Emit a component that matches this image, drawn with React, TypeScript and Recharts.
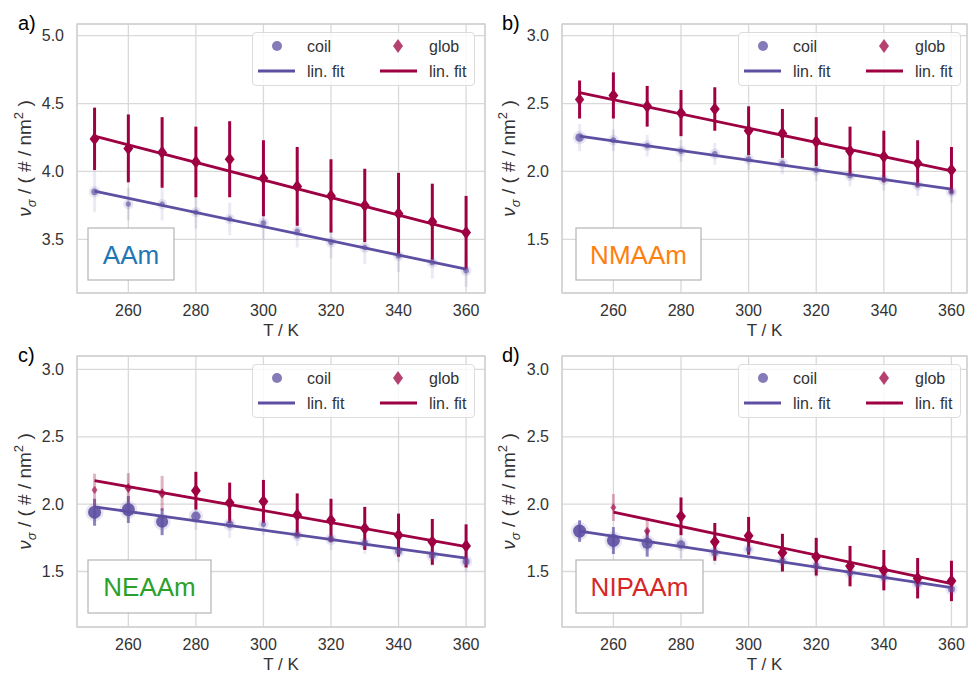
import React from 'react';
import {
  ComposedChart,
  Scatter,
  Line,
  XAxis,
  YAxis,
  CartesianGrid,
  ErrorBar,
  Legend,
  Customized,
} from 'recharts';

const COIL = '#5e4fa2';
const GLOB = '#9e0142';
const FONT = '"Liberation Sans", Arial, sans-serif';
const YW = 50;
const XH = 30;

const temps = [250, 260, 270, 280, 290, 300, 310, 320, 330, 340, 350, 360];
const xTicks = [260, 280, 300, 320, 340, 360];
const seriesNames = ['coil', 'glob'];
const fitName = 'lin. fit';

// a) AAm
const aCoil = [3.85, 3.76, 3.76, 3.7, 3.65, 3.62, 3.56, 3.48, 3.44, 3.38, 3.33, 3.27];
const aCoilErr = [0.15, 0.12, 0.12, 0.12, 0.12, 0.12, 0.12, 0.12, 0.12, 0.12, 0.12, 0.12];
const aCoilW = [0.3, 0.15, 0.15, 0.15, 0.15, 0.2, 0.15, 0.2, 0.15, 0.2, 0.2, 0.2];
const aGlob = [4.24, 4.17, 4.14, 4.07, 4.09, 3.95, 3.89, 3.82, 3.75, 3.69, 3.63, 3.55];
const aGlobErr = [0.23, 0.25, 0.26, 0.26, 0.28, 0.28, 0.29, 0.27, 0.27, 0.3, 0.28, 0.27];
const aGlobW = [1, 1, 1, 1, 1, 1, 1, 1, 1, 1, 1, 1];
const aFitT = [250, 360];
const aCoilFit = [3.855, 3.28];
const aGlobFit = [4.26, 3.55];

// b) NMAAm
const bCoil = [2.25, 2.23, 2.19, 2.15, 2.13, 2.09, 2.06, 2.01, 1.97, 1.94, 1.9, 1.85];
const bCoilErr = [0.1, 0.08, 0.08, 0.08, 0.08, 0.08, 0.08, 0.08, 0.08, 0.08, 0.08, 0.08];
const bCoilW = [0.5, 0.2, 0.2, 0.2, 0.2, 0.2, 0.2, 0.2, 0.2, 0.2, 0.2, 0.25];
const bGlob = [2.53, 2.56, 2.48, 2.43, 2.46, 2.3, 2.28, 2.22, 2.15, 2.11, 2.06, 2.01];
const bGlobErr = [0.14, 0.17, 0.15, 0.17, 0.16, 0.18, 0.18, 0.18, 0.18, 0.19, 0.17, 0.17];
const bGlobW = [0.9, 1, 1, 1, 1, 1, 1, 1, 1, 1, 1, 1];
const bFitT = [250, 360];
const bCoilFit = [2.26, 1.87];
const bGlobFit = [2.58, 2.005];

// c) NEAAm
const cCoil = [1.94, 1.96, 1.87, 1.91, 1.85, 1.85, 1.77, 1.74, 1.71, 1.65, 1.62, 1.575];
const cCoilErr = [0.1, 0.1, 0.1, 0.1, 0.1, 0.08, 0.08, 0.08, 0.08, 0.08, 0.08, 0.08];
const cCoilW = [1, 1, 0.9, 0.6, 0.4, 0.15, 0.3, 0.3, 0.3, 0.35, 0.35, 0.35];
const cGlob = [2.106, 2.12, 2.08, 2.1, 2.01, 2.02, 1.92, 1.88, 1.82, 1.77, 1.72, 1.69];
const cGlobErr = [0.12, 0.11, 0.13, 0.14, 0.15, 0.16, 0.16, 0.16, 0.16, 0.16, 0.17, 0.16];
const cGlobW = [0.3, 0.55, 0.6, 1, 1, 1, 1, 1, 1, 1, 1, 1];
const cFitT = [250, 360];
const cCoilFit = [1.98, 1.6];
const cGlobFit = [2.175, 1.685];

// d) NIPAAm
const dCoil = [1.8, 1.73, 1.71, 1.7, 1.64, 1.665, 1.58, 1.54, 1.49, 1.46, 1.41, 1.37];
const dCoilErr = [0.08, 0.1, 0.1, 0.1, 0.09, 0.08, 0.08, 0.08, 0.08, 0.08, 0.08, 0.08];
const dCoilW = [1, 1, 0.8, 0.5, 0.35, 0.2, 0.3, 0.3, 0.3, 0.3, 0.3, 0.35];
const dGlob = [null, 1.975, 1.8, 1.91, 1.72, 1.765, 1.64, 1.61, 1.54, 1.51, 1.45, 1.43];
const dGlobErr = [0, 0.1, 0.1, 0.14, 0.14, 0.14, 0.14, 0.14, 0.15, 0.15, 0.15, 0.15];
const dGlobW = [0, 0.3, 0.4, 1, 1, 1, 1, 1, 1, 1, 1, 1];
const dFitT = [260, 360];
const dCoilFit = [1.8, 1.38];
const dGlobFit = [1.94, 1.41];
const dCoilFitT = [250, 360];

type Pt = { t: number; v: number; e: number; ef: number; w: number };

function buildPoints(vals: (number | null)[], errs: number[], ws: number[]): Pt[] {
  const out: Pt[] = [];
  temps.forEach((t, i) => {
    const v = vals[i];
    if (v == null) return;
    const strong = ws[i] >= 0.7;
    out.push({ t, v, e: strong ? errs[i] : 0, ef: strong ? 0 : errs[i], w: ws[i] });
  });
  return out;
}

function buildFit(ts: number[], vs: number[]) {
  return ts.map((t, i) => ({ t, v: vs[i] }));
}

const CoilDot = (props: any) => {
  const { cx, cy, payload } = props;
  if (cx == null || cy == null) return null;
  const r = 2 + 4.5 * payload.w;
  return (
    <g>
      <circle cx={cx} cy={cy} r={r + 2.5} fill={COIL} fillOpacity={0.14} />
      <circle cx={cx} cy={cy} r={r} fill={COIL} fillOpacity={0.55 + 0.35 * payload.w} />
    </g>
  );
};

const GlobDiamond = (props: any) => {
  const { cx, cy, payload } = props;
  if (cx == null || cy == null) return null;
  const h = 3 + 3.6 * payload.w;
  const w = h * 0.75;
  return (
    <path
      d={`M${cx},${cy - h}L${cx + w},${cy}L${cx},${cy + h}L${cx - w},${cy}Z`}
      fill={GLOB}
      fillOpacity={0.45 + 0.55 * payload.w}
    />
  );
};

function LegendBox() {
  return (
    <div
      style={{
        width: 221,
        height: 52,
        border: '1px solid #dcdcdc',
        borderRadius: 4,
        background: 'rgba(255,255,255,0.8)',
      }}
    >
      <svg width={221} height={52} style={{ display: 'block' }}>
        <circle cx={24} cy={13} r={5} fill={COIL} fillOpacity={0.75} />
        <line x1={5} x2={42} y1={38} y2={38} stroke={COIL} strokeWidth={3} />
        <path d="M145,6L150,13L145,20L140,13Z" fill={GLOB} fillOpacity={0.75} />
        <line x1={127} x2={164} y1={38} y2={38} stroke={GLOB} strokeWidth={3} />
        <g fontFamily={FONT} fontSize={16} fill="#333">
          <text x={54} y={19}>{seriesNames[0]}</text>
          <text x={54} y={44}>{fitName}</text>
          <text x={176} y={19}>{seriesNames[1]}</text>
          <text x={176} y={44}>{fitName}</text>
        </g>
      </svg>
    </div>
  );
}

type PanelProps = {
  left: number;
  top: number;
  width: number;
  height: number;
  plot: { x: number; y: number; w: number; h: number };
  xDomain: [number, number];
  yDomain: [number, number];
  yTicks: number[];
  coil: Pt[];
  glob: Pt[];
  coilFit: { t: number; v: number }[];
  globFit: { t: number; v: number }[];
  letter: string;
  letterY: number;
  name: string;
  nameColor: string;
  box: { x: number; y: number; w: number; h: number };
  legend: { x: number; y: number };
};

function Panel(p: PanelProps) {
  const { plot } = p;
  const Annot = () => (
    <g fontFamily={FONT}>
      <rect x={plot.x} y={plot.y} width={plot.w} height={plot.h} fill="none" stroke="#d0d0d0" strokeWidth={1.3} />
      <text x={18} y={p.letterY} fontSize={20} fill="#000">{p.letter}</text>
      <rect x={p.box.x} y={p.box.y} width={p.box.w} height={p.box.h} fill="#fff" stroke="#b5b5b5" strokeWidth={1.2} />
      <text
        x={p.box.x + p.box.w / 2}
        y={p.box.y + p.box.h / 2 + 9.5}
        textAnchor="middle"
        fontSize={26}
        fill={p.nameColor}
      >
        {p.name}
      </text>
      <text
        transform={`translate(31,${plot.y + plot.h / 2}) rotate(-90)`}
        textAnchor="middle"
        fontSize={19}
        fill="#333"
      >
        <tspan fontStyle="italic">ν</tspan>
        <tspan fontStyle="italic" fontSize={13} dy={5}>σ</tspan>
        <tspan dy={-5}> / ( # / nm</tspan>
        <tspan fontSize={13} dy={-8}>2</tspan>
        <tspan dy={8}> )</tspan>
      </text>
      <text x={plot.x + plot.w / 2} y={plot.y + plot.h + 43} textAnchor="middle" fontSize={17} fill="#333">
        T / K
      </text>
    </g>
  );

  return (
    <div style={{ position: 'absolute', left: p.left, top: p.top, width: p.width, height: p.height }}>
      <ComposedChart
        width={p.width}
        height={p.height}
        margin={{
          top: plot.y,
          left: plot.x - YW,
          right: p.width - plot.x - plot.w,
          bottom: p.height - plot.y - plot.h - XH,
        }}
      >
        <CartesianGrid stroke="#d9d9d9" strokeWidth={1.3} />
        <XAxis
          type="number"
          dataKey="t"
          domain={p.xDomain}
          ticks={xTicks}
          allowDataOverflow
          axisLine={false}
          tickLine={false}
          tickSize={0}
          tickMargin={12}
          height={XH}
          tick={{ fill: '#333', fontSize: 16, fontFamily: FONT }}
        />
        <YAxis
          type="number"
          dataKey="v"
          domain={p.yDomain}
          ticks={p.yTicks}
          allowDataOverflow
          axisLine={false}
          tickLine={false}
          tickSize={0}
          tickMargin={13}
          width={YW}
          tickFormatter={(v: number) => v.toFixed(1)}
          tick={{ fill: '#333', fontSize: 16, fontFamily: FONT }}
        />
        <Customized component={Annot} />
        <Scatter data={p.coil} dataKey="v" name="coil" shape={CoilDot} isAnimationActive={false}>
          <ErrorBar dataKey="ef" direction="y" width={0} strokeWidth={3} stroke="rgba(94,79,162,0.12)" />
          <ErrorBar dataKey="e" direction="y" width={0} strokeWidth={3} stroke="rgba(94,79,162,0.7)" />
        </Scatter>
        <Line
          data={p.coilFit}
          dataKey="v"
          stroke={COIL}
          strokeWidth={2.8}
          dot={false}
          activeDot={false}
          isAnimationActive={false}
        />
        <Scatter data={p.glob} dataKey="v" name="glob" shape={GlobDiamond} isAnimationActive={false}>
          <ErrorBar dataKey="ef" direction="y" width={0} strokeWidth={3} stroke="rgba(158,1,66,0.3)" />
          <ErrorBar dataKey="e" direction="y" width={0} strokeWidth={3} stroke={GLOB} />
        </Scatter>
        <Line
          data={p.globFit}
          dataKey="v"
          stroke={GLOB}
          strokeWidth={2.8}
          dot={false}
          activeDot={false}
          isAnimationActive={false}
        />
        <Legend
          layout="vertical"
          align="center"
          verticalAlign="middle"
          content={() => <LegendBox />}
          wrapperStyle={{ left: p.legend.x, top: p.legend.y, width: 223, height: 54 }}
        />
      </ComposedChart>
    </div>
  );
}

export default function App() {
  return (
    <div
      style={{
        position: 'absolute',
        left: 0,
        top: 0,
        width: 968,
        height: 674,
        background: '#fff',
        fontFamily: FONT,
        overflow: 'hidden',
      }}
    >
      <Panel
        left={0}
        top={0}
        width={490}
        height={340}
        plot={{ x: 77, y: 24, w: 408, h: 269 }}
        xDomain={[244.8, 365.6]}
        yDomain={[3.105, 5.086]}
        yTicks={[3.5, 4.0, 4.5, 5.0]}
        coil={buildPoints(aCoil, aCoilErr, aCoilW)}
        glob={buildPoints(aGlob, aGlobErr, aGlobW)}
        coilFit={buildFit(aFitT, aCoilFit)}
        globFit={buildFit(aFitT, aGlobFit)}
        letter="a)"
        letterY={30}
        name="AAm"
        nameColor="#1f77b4"
        box={{ x: 88, y: 228, w: 86, h: 52 }}
        legend={{ x: 252, y: 32 }}
      />
      <Panel
        left={484}
        top={0}
        width={484}
        height={340}
        plot={{ x: 78, y: 24, w: 405, h: 269 }}
        xDomain={[244.8, 364.6]}
        yDomain={[1.105, 3.086]}
        yTicks={[1.5, 2.0, 2.5, 3.0]}
        coil={buildPoints(bCoil, bCoilErr, bCoilW)}
        glob={buildPoints(bGlob, bGlobErr, bGlobW)}
        coilFit={buildFit(bFitT, bCoilFit)}
        globFit={buildFit(bFitT, bGlobFit)}
        letter="b)"
        letterY={30}
        name="NMAAm"
        nameColor="#ff7f0e"
        box={{ x: 92, y: 228, w: 125, h: 52 }}
        legend={{ x: 254, y: 32 }}
      />
      <Panel
        left={0}
        top={340}
        width={490}
        height={334}
        plot={{ x: 77, y: 16, w: 408, h: 271 }}
        xDomain={[244.8, 365.6]}
        yDomain={[1.088, 3.1]}
        yTicks={[1.5, 2.0, 2.5, 3.0]}
        coil={buildPoints(cCoil, cCoilErr, cCoilW)}
        glob={buildPoints(cGlob, cGlobErr, cGlobW)}
        coilFit={buildFit(cFitT, cCoilFit)}
        globFit={buildFit(cFitT, cGlobFit)}
        letter="c)"
        letterY={22}
        name="NEAAm"
        nameColor="#2ca02c"
        box={{ x: 88, y: 220, w: 123, h: 53 }}
        legend={{ x: 252, y: 24 }}
      />
      <Panel
        left={484}
        top={340}
        width={484}
        height={334}
        plot={{ x: 78, y: 16, w: 405, h: 271 }}
        xDomain={[244.8, 364.6]}
        yDomain={[1.088, 3.1]}
        yTicks={[1.5, 2.0, 2.5, 3.0]}
        coil={buildPoints(dCoil, dCoilErr, dCoilW)}
        glob={buildPoints(dGlob, dGlobErr, dGlobW)}
        coilFit={buildFit(dCoilFitT, dCoilFit)}
        globFit={buildFit(dFitT, dGlobFit)}
        letter="d)"
        letterY={22}
        name="NIPAAm"
        nameColor="#d62728"
        box={{ x: 92, y: 220, w: 127, h: 53 }}
        legend={{ x: 254, y: 24 }}
      />
    </div>
  );
}
